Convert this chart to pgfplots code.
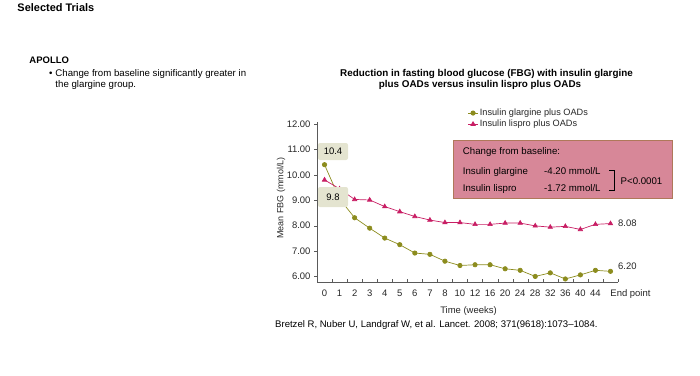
\documentclass[border=0pt]{standalone}
\usepackage{fontspec}
\setmainfont{Liberation Sans}
\usepackage{pgfplots}
\pgfplotsset{compat=1.18}
\definecolor{olivec}{RGB}{140,140,30}
\definecolor{magc}{RGB}{200,30,100}
\definecolor{boxfill}{RGB}{215,135,152}
\definecolor{boxdraw}{RGB}{175,120,90}
\definecolor{lblfill}{RGB}{228,228,208}
\definecolor{axc}{RGB}{90,90,90}
\newcommand\fs[1]{\fontsize{#1}{#1}\selectfont}
\begin{document}
\begin{tikzpicture}
\begin{axis}[
  at={(317bp,93bp)}, anchor=south west,
  scale only axis, width=301bp, height=160bp,
  xmin=-0.5, xmax=19.5, ymin=5.78, ymax=12.08,
  axis x line=bottom, axis y line=left,
  axis line style={axc,-},
  tick align=outside,
  xtick={0,...,19},
  xticklabels={0,1,2,3,4,5,6,7,8,10,12,16,20,24,28,32,36,40,44,{\makebox[0pt][l]{End point}}},
  major x tick style={draw=none},
  minor xtick={-0.5,0.5,...,19.5},
  minor x tick style={axc, yshift=3bp},
  minor tick length=3bp,
  major tick length=3bp,
  ytick={6,7,8,9,10,11,12},
  y tick style={axc},
  yticklabel style={/pgf/number format/fixed, /pgf/number format/zerofill, /pgf/number format/precision=2},
  /pgf/number format/assume math mode=true,
  tick label style={font=\fs{9.5}, text=black!85},
  xticklabel style={yshift=-1bp},
  clip=false,
  legend style={at={(axis description cs:0.5,1.092)}, anchor=north west, draw=none, fill=none, font=\fs{9.2}, row sep=0bp, text=black!85, inner sep=0pt, nodes={inner sep=1.5bp}},
  legend cell align=left,
  legend image code/.code={\draw[mark repeat=2,mark phase=2,#1] plot coordinates {(0bp,0bp) (5bp,0bp) (10bp,0bp)};},
]
\addplot[olivec, line width=0.7pt, mark=*, mark size=2.2pt, mark options={fill=olivec}] coordinates {
(0,10.4) (1,9.05) (2,8.31) (3,7.90) (4,7.51) (5,7.25) (6,6.92) (7,6.87) (8,6.60) (9,6.43)
(10,6.46) (11,6.46) (12,6.30) (13,6.24) (14,6.00) (15,6.14) (16,5.90) (17,6.06) (18,6.24) (19,6.20)};
\addlegendentry{Insulin glargine plus OADs}
\addplot[magc, line width=0.7pt, mark=triangle*, mark size=2.5pt, mark options={fill=magc}] coordinates {
(0,9.8) (1,9.45) (2,9.03) (3,9.01) (4,8.75) (5,8.55) (6,8.36) (7,8.22) (8,8.12) (9,8.12)
(10,8.05) (11,8.05) (12,8.10) (13,8.10) (14,7.99) (15,7.94) (16,7.97) (17,7.85) (18,8.05) (19,8.08)};
\addlegendentry{Insulin lispro plus OADs}
\end{axis}
\begin{scope}[yshift=375bp, x=1bp, y=-1bp]
\path[use as bounding box] (0,0) rectangle (700,375);
\node[anchor=base west, inner sep=0, font=\bfseries\fs{11}] at (17.3,11.5) {Selected Trials};
\node[anchor=base west, inner sep=0, font=\bfseries\fs{9.5}] at (29.3,64) {APOLLO};
\node[anchor=base west, inner sep=0, font=\fs{9.7}] at (49,76.7) {•};
\node[anchor=base west, inner sep=0, font=\fs{9.7}] at (55.3,76.7) {Change from baseline significantly greater in};
\node[anchor=base west, inner sep=0, font=\fs{9.7}] at (55.3,87.8) {the glargine group.};
\node[anchor=base, inner sep=0, font=\bfseries\fs{9.9}] at (486.5,76.5) {Reduction in fasting blood glucose (FBG) with insulin glargine};
\node[anchor=base, inner sep=0, font=\bfseries\fs{9.9}] at (480,87.8) {plus OADs versus insulin lispro plus OADs};
% axis labels
\node[rotate=90, inner sep=0, font=\fs{9}, text=black!85] at (281,198) {Mean FBG (mmol/L)};
\node[inner sep=0, font=\fs{9.5}, text=black!85] at (468.5,311) {Time (weeks)};
% change box
\draw[boxdraw, fill=boxfill, line width=0.6pt] (453,140) rectangle (672,198);
\node[anchor=base west, inner sep=0, font=\fs{9.7}] at (462.7,154.3) {Change from baseline:};
\node[anchor=base west, inner sep=0, font=\fs{9.7}] at (462.7,174.3) {Insulin glargine};
\node[anchor=base west, inner sep=0, font=\fs{9.7}] at (544,174.3) {-4.20 mmol/L};
\node[anchor=base west, inner sep=0, font=\fs{9.7}] at (462.7,191) {Insulin lispro};
\node[anchor=base west, inner sep=0, font=\fs{9.7}] at (544,191) {-1.72 mmol/L};
\draw[black, line width=0.6pt] (609,170.5) -- (614,170.5) -- (614,190.5) -- (609,190.5);
\node[anchor=west, inner sep=0, font=\fs{9.7}] at (620.5,181) {P<0.0001};
% value labels
\node[fill=lblfill, rounded corners=2pt, minimum width=30bp, minimum height=17bp, inner sep=0, font=\fs{9.5}] at (333,151.5) {10.4};
\node[fill=lblfill, rounded corners=2pt, minimum width=30bp, minimum height=20bp, inner sep=0, font=\fs{9.5}] at (333,197) {9.8};
\node[anchor=west, inner sep=0, font=\fs{9.5}, text=black!85] at (618,223.5) {8.08};
\node[anchor=west, inner sep=0, font=\fs{9.5}, text=black!85] at (618,266.7) {6.20};
\node[anchor=base west, inner sep=0, font=\fs{9.6}] at (275,327) {Bretzel R, Nuber U, Landgraf W, et al. Lancet. 2008; 371(9618):1073–1084.};
\end{scope}
\end{tikzpicture}
\end{document}
